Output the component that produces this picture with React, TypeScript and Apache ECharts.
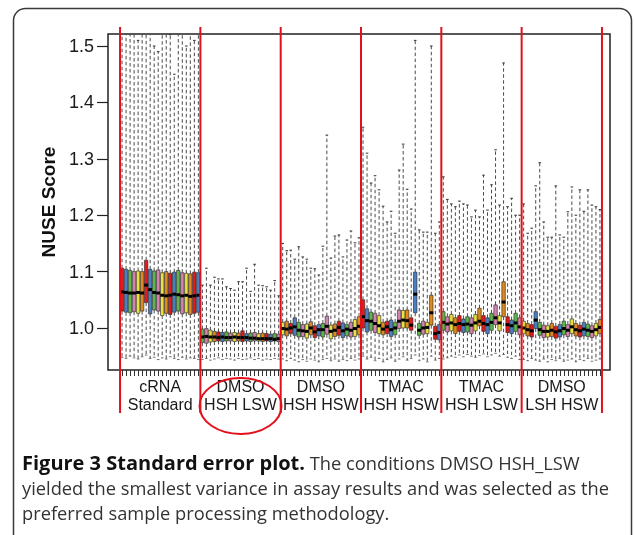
import React, { useEffect, useRef } from "react";
import * as echarts from "echarts";

// ---- data ----
const groupNames = [
  "cRNA\nStandard",
  "DMSO\nHSH LSW",
  "DMSO\nHSH HSW",
  "TMAC\nHSH HSW",
  "TMAC\nHSH LSW",
  "DMSO\nLSH HSW",
];
const boxesPerGroup = 20;
const yTicks = [1.0, 1.1, 1.2, 1.3, 1.4, 1.5];

// upper whisker ends (values above the plot top are clipped)
const highVals = [
  // cRNA Standard
  1.56, 1.55, 1.53, 1.58, 1.51, 1.55, 1.6, 1.53, 1.5, 1.49, 1.55, 1.57, 1.52, 1.45, 1.56, 1.54, 1.5, 1.58, 1.51, 1.55,
  // DMSO HSH LSW
  1.076, 1.106, 1.076, 1.09, 1.087, 1.087, 1.073, 1.07, 1.067, 1.082, 1.082, 1.106, 1.065, 1.113, 1.076, 1.075, 1.073, 1.067, 1.084, 1.057,
  // DMSO HSH HSW
  1.15, 1.137, 1.138, 1.122, 1.144, 1.126, 1.122, 1.106, 1.105, 1.094, 1.145, 1.342, 1.124, 1.163, 1.165, 1.126, 1.156, 1.172, 1.151, 1.16,
  // TMAC HSH HSW
  1.356, 1.31, 1.257, 1.27, 1.245, 1.216, 1.188, 1.207, 1.168, 1.28, 1.326, 1.246, 1.211, 1.51, 1.174, 1.17, 1.17, 1.5, 1.168, 1.188,
  // TMAC HSH LSW
  1.268, 1.228, 1.22, 1.215, 1.225, 1.22, 1.218, 1.197, 1.209, 1.197, 1.271, 1.209, 1.254, 1.316, 1.218, 1.47, 1.215, 1.23, 1.2, 1.2,
  // DMSO LSH HSW
  1.22, 1.168, 1.177, 1.252, 1.293, 1.188, 1.161, 1.161, 1.252, 1.165, 1.161, 1.206, 1.25, 1.2, 1.245, 1.207, 1.245, 1.218, 1.215, 1.21,
];

const q3Vals = [
  1.106, 1.104, 1.102, 1.1, 1.101, 1.1, 1.12, 1.104, 1.101, 1.103, 1.098, 1.1, 1.097, 1.099, 1.102, 1.098, 1.097, 1.096, 1.099, 1.098,
  0.998, 0.999, 0.996, 0.994, 0.993, 0.992, 0.993, 0.991, 0.992, 0.991, 0.995, 0.99, 0.991, 0.992, 0.99, 0.991, 0.99, 0.989, 0.99, 0.989,
  1.01, 1.012, 1.008, 1.018, 1.01, 1.006, 1.007, 1.011, 1.004, 1.006, 1.008, 1.021, 1.005, 1.007, 1.012, 1.009, 1.006, 1.01, 1.015, 1.02,
  1.05, 1.034, 1.028, 1.026, 1.022, 1.01, 1.012, 1.014, 1.01, 1.032, 1.031, 1.032, 1.018, 1.099, 1.008, 1.012, 1.01, 1.058, 1.003, 1.006,
  1.029, 1.02, 1.024, 1.018, 1.022, 1.016, 1.02, 1.018, 1.024, 1.035, 1.022, 1.018, 1.026, 1.041, 1.022, 1.082, 1.02, 1.014, 1.026, 1.018,
  1.012, 1.008, 1.006, 1.029, 1.01, 1.005, 1.004, 1.008, 1.003, 1.006, 1.012, 1.006, 1.016, 1.008, 1.005, 1.01, 1.007, 1.004, 1.008, 1.015,
];

const medVals = [
  1.064, 1.063, 1.062, 1.062, 1.063, 1.062, 1.076, 1.068, 1.063, 1.062, 1.058, 1.057, 1.058, 1.06, 1.059, 1.057, 1.058, 1.056, 1.057, 1.058,
  0.984, 0.985, 0.984, 0.984, 0.983, 0.984, 0.983, 0.983, 0.984, 0.983, 0.983, 0.983, 0.982, 0.982, 0.981, 0.981, 0.981, 0.981, 0.98, 0.981,
  0.999, 0.998, 1.0, 1.002, 0.996, 0.995, 0.994, 1.0, 0.993, 0.997, 0.997, 1.003, 0.994, 0.996, 1.001, 0.995, 0.998, 0.996, 0.999, 1.003,
  1.02, 1.013, 1.012, 1.008, 1.004, 0.998, 1.002, 0.997, 1.0, 1.012, 1.014, 1.013, 1.005, 1.06, 0.996, 1.0, 1.001, 1.027, 0.99, 0.992,
  1.01, 1.007, 1.009, 1.006, 1.008, 1.006, 1.007, 1.005, 1.009, 1.012, 1.008, 1.006, 1.01, 1.018, 1.009, 1.046, 1.006, 1.004, 1.009, 1.002,
  1.0, 0.997, 0.995, 1.014, 0.997, 0.994, 0.994, 0.996, 0.993, 0.995, 0.999, 0.996, 1.002, 0.997, 0.995, 0.998, 0.996, 0.994, 0.997, 1.001,
];

const q1Vals = [
  1.03, 1.028, 1.027, 1.029, 1.026, 1.03, 1.045, 1.025, 1.032, 1.03, 1.022, 1.026, 1.024, 1.028, 1.03, 1.025, 1.027, 1.024, 1.026, 1.028,
  0.974, 0.973, 0.975, 0.976, 0.977, 0.976, 0.977, 0.977, 0.976, 0.977, 0.976, 0.977, 0.976, 0.977, 0.977, 0.976, 0.977, 0.976, 0.977, 0.976,
  0.988, 0.986, 0.99, 0.987, 0.984, 0.985, 0.982, 0.988, 0.983, 0.986, 0.984, 0.989, 0.981, 0.985, 0.987, 0.983, 0.986, 0.984, 0.985, 0.988,
  1.0, 0.993, 0.996, 0.992, 0.99, 0.988, 0.99, 0.985, 0.988, 0.999, 1.0, 1.0, 0.996, 1.027, 0.987, 0.989, 0.99, 1.005, 0.98, 0.979,
  0.996, 0.993, 0.995, 0.99, 0.994, 0.992, 0.993, 0.99, 0.995, 1.004, 0.994, 0.99, 0.996, 1.006, 0.995, 1.02, 0.992, 0.99, 0.994, 0.988,
  0.99, 0.986, 0.984, 0.999, 0.987, 0.983, 0.984, 0.985, 0.982, 0.984, 0.988, 0.985, 0.99, 0.986, 0.984, 0.986, 0.985, 0.983, 0.986, 0.99,
];

const lowVals = [
  0.948, 0.946, 0.95, 0.947, 0.945, 0.949, 0.952, 0.946, 0.948, 0.944, 0.947, 0.945, 0.949, 0.946, 0.944, 0.948, 0.945, 0.947, 0.946, 0.944,
  0.944, 0.946, 0.943, 0.945, 0.947, 0.944, 0.946, 0.945, 0.943, 0.946, 0.944, 0.945, 0.947, 0.944, 0.946, 0.943, 0.945, 0.944, 0.946, 0.945,
  0.945, 0.942, 0.946, 0.943, 0.94, 0.944, 0.941, 0.945, 0.943, 0.94, 0.944, 0.946, 0.942, 0.945, 0.941, 0.944, 0.942, 0.946, 0.943, 0.945,
  0.95, 0.945, 0.948, 0.942, 0.946, 0.94, 0.944, 0.947, 0.941, 0.945, 0.949, 0.943, 0.946, 0.952, 0.942, 0.945, 0.94, 0.95, 0.943, 0.946,
  0.945, 0.947, 0.95, 0.948, 0.952, 0.949, 0.953, 0.95, 0.948, 0.951, 0.954, 0.949, 0.952, 0.955, 0.95, 0.953, 0.948, 0.946, 0.95, 0.944,
  0.944, 0.942, 0.946, 0.943, 0.941, 0.945, 0.94, 0.944, 0.942, 0.946, 0.941, 0.943, 0.945, 0.94, 0.944, 0.942, 0.946, 0.941, 0.943, 0.945,
];

const boxPalette = ["#e41a1c", "#4b7fc4", "#5db84c", "#d483b0", "#e9e13e", "#dd8a1f"];

const captionBold = "Figure 3 Standard error plot.";
const captionLines = [
  " The conditions DMSO HSH_LSW",
  "yielded the smallest variance in assay results and was selected as the",
  "preferred sample processing methodology.",
];

const PAD_LEFT = 3;
const PAD_RIGHT = 2;
const AXIS_FONT = "'Liberation Sans', Arial, Helvetica, sans-serif";
const CAPTION_FONT = "'Open Sans', 'Noto Sans', sans-serif";
const RED = "#e3101b";

export default function App() {
  const ref = useRef<HTMLDivElement>(null);

  useEffect(() => {
    if (!ref.current) return;
    const chart = echarts.init(ref.current, null, { renderer: "svg" });
    const n = medVals.length;
    const nCats = PAD_LEFT + n + PAD_RIGHT;
    const cats = Array.from({ length: nCats }, (_, i) => String(i));
    const data = medVals.map((m, i) => [PAD_LEFT + i, lowVals[i], q1Vals[i], m, q3Vals[i], highVals[i], i]);
    const groupCenters = groupNames.map((_, k) => PAD_LEFT + k * boxesPerGroup + boxesPerGroup / 2);

    const option: any = {
      animation: false,
      grid: {
        left: 108,
        top: 34,
        right: 24,
        bottom: 165,
        show: true,
        borderColor: "#222",
        borderWidth: 1.5,
        backgroundColor: "transparent",
        containLabel: false,
      },
      xAxis: [
        {
          type: "category",
          data: cats,
          boundaryGap: true,
          axisLine: { show: false },
          axisLabel: { show: false },
          splitLine: { show: false },
          axisTick: {
            show: true,
            alignWithLabel: true,
            length: 6,
            interval: (idx: number) => idx >= PAD_LEFT && idx < PAD_LEFT + n,
            lineStyle: { color: "#333", width: 1 },
          },
        },
        {
          type: "value",
          min: 0,
          max: nCats,
          position: "bottom",
          axisLine: { show: false },
          axisTick: { show: false },
          splitLine: { show: false },
          axisLabel: {
            customValues: groupCenters,
            formatter: (v: number) => {
              const k = Math.round((v - PAD_LEFT - boxesPerGroup / 2) / boxesPerGroup);
              return groupNames[k] ?? "";
            },
            fontFamily: AXIS_FONT,
            fontSize: 16,
            lineHeight: 18,
            color: "#1a1a1a",
            margin: 7,
          },
        },
      ],
      yAxis: {
        type: "value",
        min: 0.9255,
        max: 1.5213,
        name: "NUSE Score",
        nameLocation: "middle",
        nameGap: 41,
        nameTextStyle: { fontFamily: AXIS_FONT, fontSize: 19, fontWeight: "bold", color: "#111" },
        axisLine: { show: false },
        splitLine: { show: false },
        axisTick: { show: true, customValues: yTicks, length: 11, lineStyle: { color: "#222", width: 1.2 } },
        axisLabel: {
          customValues: yTicks,
          formatter: (v: number) => v.toFixed(1),
          fontFamily: AXIS_FONT,
          fontSize: 18,
          color: "#1a1a1a",
          margin: 14,
        },
      },
      series: [
        {
          type: "custom",
          xAxisIndex: 0,
          yAxisIndex: 0,
          clip: true,
          encode: { x: 0, y: [1, 2, 3, 4, 5] },
          data,
          renderItem: (params: any, api: any) => {
            const xi = api.value(0);
            const lo = api.coord([xi, api.value(1)]);
            const b1 = api.coord([xi, api.value(2)]);
            const md = api.coord([xi, api.value(3)]);
            const b3 = api.coord([xi, api.value(4)]);
            const hi = api.coord([xi, api.value(5)]);
            const band = api.size([1, 0])[0];
            const bw = band * 0.86;
            const cx = lo[0];
            const color = boxPalette[api.value(6) % boxPalette.length];
            const dash = { stroke: "#4a4a4a", lineWidth: 1, lineDash: [3.5, 2.5] };
            return {
              type: "group",
              children: [
                { type: "line", shape: { x1: cx, y1: b3[1], x2: cx, y2: hi[1] }, style: dash },
                { type: "line", shape: { x1: cx, y1: b1[1], x2: cx, y2: lo[1] }, style: dash },
                { type: "line", shape: { x1: cx - 1.3, y1: hi[1], x2: cx + 1.3, y2: hi[1] }, style: { stroke: "#333", lineWidth: 1 } },
                { type: "line", shape: { x1: cx - 1.3, y1: lo[1], x2: cx + 1.3, y2: lo[1] }, style: { stroke: "#555", lineWidth: 0.8 } },
                {
                  type: "rect",
                  shape: { x: cx - bw / 2, y: b3[1], width: bw, height: Math.max(b1[1] - b3[1], 1) },
                  style: { fill: color, stroke: "#222", lineWidth: 0.6 },
                },
                {
                  type: "line",
                  shape: { x1: cx - band / 2, y1: md[1], x2: cx + band / 2, y2: md[1] },
                  style: { stroke: "#000", lineWidth: 3 },
                },
              ],
            };
          },
        },
      ],
    };
    chart.setOption(option);

    // group separators and the highlight circle, positioned via the axis scale
    const sepX = groupNames
      .map((_, k) => PAD_LEFT + k * boxesPerGroup)
      .concat([PAD_LEFT + n])
      .map((v) => chart.convertToPixel({ xAxisIndex: 1 } as any, v) as number);
    const circleX = chart.convertToPixel({ xAxisIndex: 1 } as any, groupCenters[1]) as number;

    const graphics: any[] = [
      {
        type: "rect",
        z: -10,
        silent: true,
        shape: { x: 13.5, y: 8.5, width: 618, height: 540, r: 12 },
        style: { fill: "#fff", stroke: "#3a3a3a", lineWidth: 1.5 },
      },
      ...sepX.map((x) => ({
        type: "line",
        z: 50,
        silent: true,
        shape: { x1: x, y1: 27, x2: x, y2: 413 },
        style: { stroke: RED, lineWidth: 2 },
      })),
      {
        type: "ellipse",
        z: 50,
        silent: true,
        shape: { cx: circleX, cy: 406, rx: 41, ry: 28 },
        style: { fill: "none", stroke: RED, lineWidth: 2 },
      },
      {
        type: "text",
        z: 50,
        x: 22,
        y: 462,
        style: {
          text: `{b|${captionBold}}${captionLines[0]}`,
          rich: { b: { fontFamily: CAPTION_FONT, fontSize: 20, fontWeight: "bold", fill: "#111" } },
          fontFamily: CAPTION_FONT,
          fontSize: 18.3,
          fill: "#333",
          verticalAlign: "middle",
        },
      },
      ...captionLines.slice(1).map((t, i) => ({
        type: "text",
        z: 50,
        x: 22,
        y: 487 + i * 25,
        style: { text: t, fontFamily: CAPTION_FONT, fontSize: 18.3, fill: "#333", verticalAlign: "middle" },
      })),
    ];
    chart.setOption({ graphic: graphics });

    return () => chart.dispose();
  }, []);

  return <div ref={ref} style={{ position: "fixed", left: 0, top: 0, width: 634, height: 535 }} />;
}
